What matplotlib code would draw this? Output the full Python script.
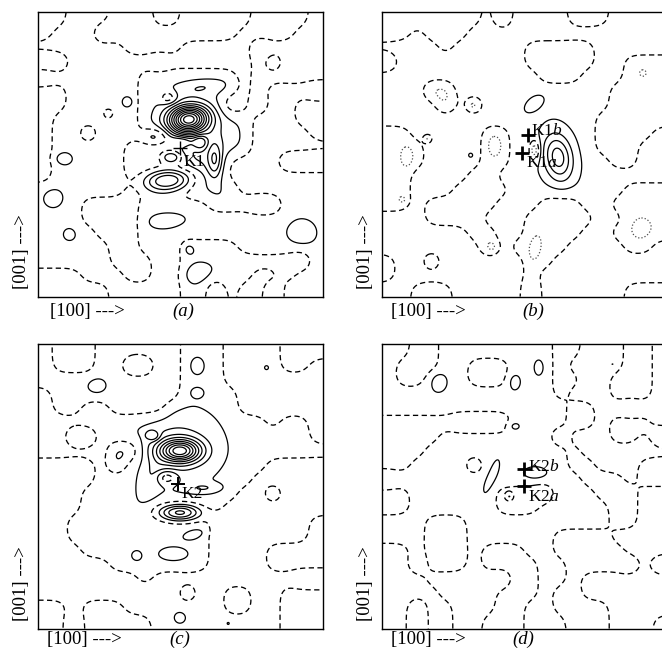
import numpy as np
import matplotlib.pyplot as plt

plt.rcParams['font.family'] = ['Liberation Serif', 'DejaVu Serif']
plt.rcParams['mathtext.fontset'] = 'custom'
plt.rcParams['mathtext.rm'] = 'Liberation Serif'
plt.rcParams['mathtext.it'] = 'Liberation Serif:italic'

# sign of each difference map on a 20 x 20 grid, rows from the top of the panel
grid_a = ["++---+++--+++++----+",
          "+---++++++++++----++",
          "------++++-----+++++",
          "++-------------+-+++",
          "-------+++++++-+++++",
          "++-----+++++++-+----",
          "++-----++++++--+--++",
          "+------++++++++---++",
          "+--+---++++++++----+",
          "+-----+++++++++-----",
          "+-----+++++++----+++",
          "+-----+++++++-------",
          "------++++++++------",
          "---++++-----+++++---",
          "---++++-------------",
          "----+++-------------",
          "-----++---++++------",
          "-----+++--+++++++++-",
          "+++---++--+++++--+--",
          "+++++-----++-+--+---"]

grid_b = ["-------+-++++---++++",
          "--+---++++++++++++++",
          "++++-+++++-----+++++",
          "-+++++++++-----++---",
          "+++++++++++---+++---",
          "+++--+++++++++++----",
          "++++-+-+++++++++----",
          "+++++++++++++++-----",
          "--+++++--++++++----+",
          "---++++--++++++---++",
          "---++++--+++++++--++",
          "--++++--++++++++++++",
          "--+++----++++++++---",
          "--+-----+++---++----",
          "+++----+++-----++---",
          "++++++--++----++----",
          "+++++++-+----++++--+",
          "-++-++++++--++++++++",
          "-+++++++++-+++++++++",
          "++---+++++-++++++---"]

grid_c = ["-+++------+++----+++",
          "-+++--++--+++----++-",
          "----------+++-------",
          "+---------++++------",
          "+--++----+++++------",
          "++++++++++++++++-++-",
          "++--+++++++++++++++-",
          "+++++--+++++++++++++",
          "----+-++++++++++----",
          "----+++++++++++-----",
          "---+++++++++++--+---",
          "---++++++++++-------",
          "--++++++++++-------+",
          "--++++++++++-------+",
          "---+++++++++----++++",
          "-----+++++++----++++",
          "-------+------------",
          "----------+--++--+++",
          "++-+++-------++--+++",
          "++-+++++---------+++"]

grid_d = ["++--++++++++--+++--+",
          "+---++---+++-++++--+",
          "+--+++---+++--++---+",
          "++++++++++++-+++---+",
          "+++++++++++++--+++++",
          "---------++++--+---+",
          "----++++++++-+++--+-",
          "---++++++++++-++++++",
          "--++++-++++++--+++--",
          "++++++++++++++---+--",
          "--++++++----+++---++",
          "--++++++---+++++--++",
          "+++---++++++++++--++",
          "+++---++++++----++++",
          "--+---+---++-----+++",
          "--+---+----++-----+-",
          "---++++++--++-++++++",
          "----++++---+--++++++",
          "--+--+++--++----++++",
          "--+--++---+++---+++-"]

# peaks and holes: x, y (0-100, y from the top), height, width x, width y, tilt (deg)
peaks_a = [(52.8, 37.6, 10.0, 4.8, 3.3, -5),
           (57.0, 47.0, 1.6, 8.5, 11.0, 0),
           (41.0, 43.8, -2.6, 3.8, 2.3, 0),
           (46.9, 50.9, -3.6, 3.0, 1.8, 0),
           (50.5, 45.5, -2.3, 3.0, 1.5, 0),
           (56.9, 45.6, -2.5, 1.8, 1.8, 0),
           (45.7, 59.1, -5.5, 6.5, 3.0, -5),
           (62.1, 52.1, 2.5, 1.8, 4.2, 0),
           (57.5, 26.4, 1.0, 6.0, 1.8, -6),
           (45.7, 30.0, -2.0, 2.0, 1.6, 0),
           (24.6, 35.6, 2.2, 1.2, 1.2, 0),
           (31.7, 31.5, -1.0, 1.4, 1.4, 0),
           (8.2, 51.5, -1.0, 2.3, 1.6, 0),
           (5.2, 65.2, -1.0, 2.1, 2.1, 0),
           (11.0, 78.1, -1.0, 1.3, 1.3, 0),
           (92.6, 77.6, -1.0, 3.2, 3.0, 0),
           (45.1, 73.2, -1.0, 4.5, 1.8, -5),
           (52.8, 83.2, 1.0, 1.6, 1.7, 0),
           (55.7, 92.0, 1.0, 3.8, 2.5, -10)]

peaks_b = [(62.0, 51.0, 3.8, 3.5, 5.8, -10),
           (53.7, 48.5, -3.0, 1.3, 2.5, 0),
           (53.7, 32.1, 1.0, 2.5, 1.4, -40),
           (31.4, 50.3, 0.8, 0.7, 0.7, 0),
           (39.6, 46.8, -1.0, 2.0, 2.9, 0),
           (9.1, 50.9, -1.0, 1.5, 2.7, 0),
           (32.0, 32.7, -1.0, 1.2, 1.2, 0),
           (7.4, 65.9, -1.0, 1.1, 1.1, 0),
           (39.0, 82.6, -1.0, 1.5, 1.5, 0),
           (53.7, 83.2, -1.0, 1.4, 3.1, 10),
           (91.2, 76.1, -1.0, 2.3, 2.3, 0),
           (91.8, 21.3, -0.8, 0.8, 0.8, 0),
           (16.2, 44.4, -2.0, 1.1, 1.1, 0)]

peaks_c = [(49.8, 37.5, 7.5, 5.0, 2.8, 0),
           (49.0, 36.0, 1.6, 9.0, 8.0, 0),
           (40.0, 47.0, 1.0, 2.5, 6.0, 20),
           (45.1, 46.9, -2.2, 2.5, 1.6, 0),
           (58.0, 50.5, 1.2, 4.0, 1.2, 0),
           (49.8, 59.2, -5.5, 5.5, 2.2, 0),
           (55.1, 66.8, 1.0, 2.6, 1.1, -15),
           (47.5, 73.9, 1.0, 3.2, 1.6, 0),
           (34.6, 74.4, 1.0, 1.1, 1.1, 0),
           (49.8, 96.1, -1.0, 1.2, 1.2, 0),
           (66.8, 98.1, -0.6, 0.6, 0.6, 0),
           (20.5, 14.7, -1.0, 2.1, 1.9, 0),
           (55.7, 7.6, 1.0, 1.6, 1.9, 0),
           (55.7, 17.0, 1.0, 1.4, 1.1, 0),
           (80.3, 8.2, -0.6, 0.6, 0.6, 0),
           (96.1, 35.8, 0.6, 0.6, 0.6, 0),
           (24.0, 46.9, 0.6, 0.6, 0.6, 0),
           (40.4, 32.2, -2.0, 1.5, 1.2, 0)]

peaks_d = [(19.7, 12.9, 1.0, 2.1, 2.5, 0),
           (46.1, 12.9, 1.0, 1.9, 2.5, 0),
           (55.4, 8.2, 1.0, 1.1, 1.8, 0),
           (46.0, 28.7, 1.0, 1.9, 1.4, 0),
           (81.2, 7.0, 0.6, 0.5, 0.5, 0),
           (38.5, 46.9, 1.0, 1.2, 4.2, 20),
           (54.0, 45.5, 1.0, 2.8, 1.5, 0),
           (44.9, 53.6, 2.0, 1.1, 1.1, 0)]

# marked sites: label, cross x, cross y, text x, text y
sites_a = [("K1", 49.8, 47.7, 51.0, 52.5)]
sites_b = [("K1$b$", 51.6, 43.0, 52.5, 41.7), ("K1$a$", 49.2, 49.5, 50.8, 52.9)]
sites_c = [("K2", 49.2, 49.2, 50.4, 52.8)]
sites_d = [("K2$b$", 49.9, 43.7, 51.3, 43.0), ("K2$a$", 49.9, 50.0, 51.3, 53.6)]

letters = ["a", "b", "c", "d"]

t = np.linspace(0, 100, 401)
X, Y = np.meshgrid(t, t)


def density(grid, peaks):
    g = np.array([[1.0 if ch == "+" else -1.0 for ch in row] for row in grid])
    # lone cells would vanish in the smoothing, so give them more weight
    pad = np.pad(g, 1, mode="edge")
    same = sum(pad[1 + di:21 + di, 1 + dj:21 + dj] == g
               for di in (-1, 0, 1) for dj in (-1, 0, 1))
    g = g * np.where(same <= 3, 2.4, 1.0)
    n = g.shape[0]
    centres = (np.arange(n) + 0.5) * 100.0 / n
    k = np.exp(-(t[:, None] - centres[None, :]) ** 2 / (2 * 3.1 ** 2))
    f = (k @ g @ k.T) / (k @ np.ones_like(g) @ k.T)
    for x0, y0, h, sx, sy, tilt in peaks:
        a = np.radians(tilt)
        dx, dy = X - x0, Y - y0
        p = dx * np.cos(a) + dy * np.sin(a)
        q = -dx * np.sin(a) + dy * np.cos(a)
        f += h * np.exp(-0.5 * ((p / sx) ** 2 + (q / sy) ** 2))
    return f


pos = np.arange(1.25, 16, 1.0)
neg = -pos[::-1]

fig = plt.figure(figsize=(6.62, 6.53), dpi=100)

# panel boxes in pixels: left, top
boxes = [(38.3, 12.3), (381.7, 12.3), (38.3, 344.3), (381.7, 344.3)]
pw, ph = 284.4, 284.3
maps = [(grid_a, peaks_a, sites_a, False, 1.0),
        (grid_b, peaks_b, sites_b, True, 2.0),
        (grid_c, peaks_c, sites_c, False, 1.4),
        (grid_d, peaks_d, sites_d, False, 2.0)]
label_drop = [14.5, 14.5, 10.5, 10.5]
axis_left = [11.7, 9.3, 8.4, 9.3]
letter_x = [145, 152, 141, 142]

for i, (grid, peaks, sites, dotted, mew) in enumerate(maps):
    x0, y0 = boxes[i]
    ax = fig.add_axes([x0 / 662, 1 - (y0 + ph) / 653, pw / 662, ph / 653])
    f = density(grid, peaks)
    ax.contour(t, t, f, levels=[0], colors="k", linewidths=0.95,
               linestyles=[(0, (4, 2.6))])
    ax.contour(t, t, f, levels=pos, colors="k", linewidths=0.9)
    if dotted:
        ax.contour(t, t, f, levels=neg, colors="0.3", linewidths=0.9,
                   linestyles=[(0, (1, 1.6))])
    else:
        ax.contour(t, t, f, levels=neg, colors="k", linewidths=0.9,
                   linestyles="solid")
    for lab, cx, cy, tx, ty in sites:
        ax.plot(cx, cy, marker="+", ms=9.5, mew=mew, color="k")
        ax.text(tx, ty, lab, fontsize=12.5, ha="left", va="center")
    ax.set_xlim(0, 100)
    ax.set_ylim(100, 0)
    ax.set_xticks([])
    ax.set_yticks([])
    for s in ax.spines.values():
        s.set_linewidth(1.0)

    yl = -label_drop[i] / ph
    ax.text(axis_left[i] / pw, yl, "[100] --->", transform=ax.transAxes,
            fontsize=13.5, ha="left", va="center")
    ax.text(letter_x[i] / pw, yl, "(" + letters[i] + ")", transform=ax.transAxes,
            fontsize=13.5, ha="center", va="center", style="italic")
    ax.text(-16.5 / pw, 8 / ph, "[001] --->", transform=ax.transAxes,
            fontsize=13.5, ha="center", va="bottom", rotation=90)

fig.savefig("out.png", dpi=100)
